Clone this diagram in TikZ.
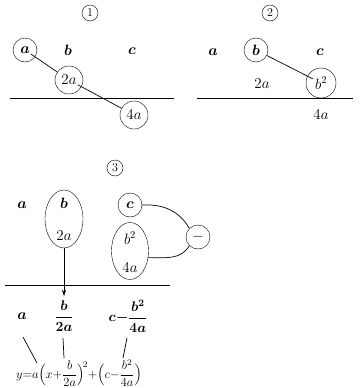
\RequirePackage{fix-cm}
\documentclass[tikz,border=0pt]{standalone}
\usepackage{amsmath}
\usepackage{bm}
\usetikzlibrary{shapes.geometric,arrows.meta}
\begin{document}
\begin{tikzpicture}[x=1pt,y=-1pt,font=\fontsize{15}{17}\selectfont,
  cnode/.style={circle,draw,inner sep=0pt,minimum size=24pt},
  bignode/.style={circle,draw,inner sep=0pt,minimum size=29pt},
  enode/.style={ellipse,draw,inner sep=0pt,minimum width=38pt,minimum height=58pt},
  num/.style={circle,draw,inner sep=0pt,minimum size=16pt,font=\fontsize{12}{13}\selectfont},
  lbl/.style={inner sep=1pt},
  rule/.style={line width=1pt},
  conn/.style={line width=0.7pt}]
\useasboundingbox (0,0) rectangle (360,388);
% Panel 1
\node[num] (n1) at (90,13) {1};
\node[cnode] (a1) at (25,50) {$\bm a$};
\node[lbl] (b1) at (68,50) {$\bm b$};
\node[lbl] (c1) at (132,51) {$\bm c$};
\node[bignode,minimum size=28pt] (ta1) at (69,80) {$2a$};
\node[bignode,minimum size=28pt] (fa1) at (134,115) {$4a$};
\coordinate (r1l) at (10,98);
\coordinate (r1r) at (174,98);
\draw[rule] (r1l) -- (r1r);
\draw[conn,shorten <=7pt] (a1.center) -- (ta1);
\draw[conn,shorten <=10pt] (ta1.center) -- (fa1);
% Panel 2
\node[num] (n2) at (270,13) {2};
\node[lbl] (a2) at (213,52) {$\bm a$};
\node[cnode] (b2) at (256,50) {$\bm b$};
\node[lbl] (c2) at (320,52) {$\bm c$};
\node[lbl] (ta2) at (262,84) {$2a$};
\node[bignode,minimum size=30pt] (bs2) at (321,83) {$b^2$};
\node[lbl] (fa2) at (321,115) {$4a$};
\coordinate (r2l) at (197,98);
\coordinate (r2r) at (353,98);
\draw[rule] (r2l) -- (r2r);
\draw[conn,shorten >=9pt] (b2) -- (bs2.center);
% Panel 3
\node[num] (n3) at (115,168) {3};
\node[lbl] (a3) at (22,205) {$\bm a$};
\node[enode] (e1) at (64,219) {};
\node[lbl] (b3) at (64,203) {$\bm b$};
\node[lbl] (ta3) at (64,236) {$2a$};
\node[cnode] (c3) at (130,205) {$\bm c$};
\node[enode,minimum width=37pt,minimum height=57pt] (e2) at (130,251) {};
\node[lbl] (bs3) at (130,238) {$b^2$};
\node[lbl] (fa3) at (130,268) {$4a$};
\node[cnode] (mn) at (198,237) {$-$};
\coordinate (r3l) at (5,285);
\coordinate (r3r) at (170,285);
\draw[rule] (r3l) -- (r3r);
\coordinate (tip) at (64,296);
\draw[conn,-{Stealth[length=6pt,width=4pt]}] (e1.south) -- (tip);
\draw[conn] (c3.east) to[out=3,in=120] (mn.north west);
\draw[conn] (e2.-20) to[out=0,in=-120] (mn.south west);
% Bottom
\node[lbl] (a4) at (22,316) {$\bm a$};
\node[lbl,font=\fontsize{14}{16}\selectfont] (f4) at (64,316) {$\boldsymbol{\dfrac{b}{2a}}$};
\node[lbl,font=\fontsize{14}{16}\selectfont] (g4) at (128,316) {$\boldsymbol{c{-}\dfrac{b^2}{4a}}$};
\node[lbl,anchor=west,font=\fontsize{12.5}{15}\selectfont] (eq) at (15,373) {$y{=}a\Bigl(x{+}\dfrac{b}{2a}\Bigr)^{\!2}{+}\Bigl(c{-}\dfrac{b^2}{4a}\Bigr)$};
\coordinate (l1a) at (23,337);
\coordinate (l1b) at (37,363);
\coordinate (l2a) at (63,338);
\coordinate (l2b) at (64,358);
\coordinate (l3a) at (127,338);
\coordinate (l3b) at (123,358);
\draw[conn] (l1a) -- (l1b);
\draw[conn] (l2a) -- (l2b);
\draw[conn] (l3a) -- (l3b);
\end{tikzpicture}
\end{document}
